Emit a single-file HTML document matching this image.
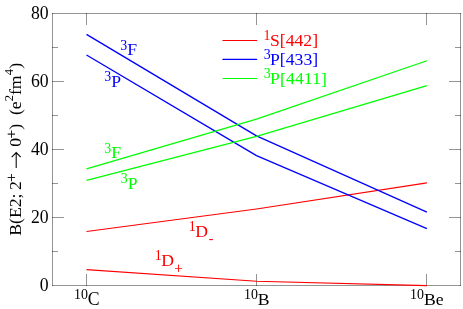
<!DOCTYPE html>
<html><head><meta charset="utf-8"><title>B(E2)</title>
<style>
html,body{margin:0;padding:0;background:#fff;overflow:hidden}
svg{display:block;will-change:transform}
text{font-family:"Liberation Serif",serif;white-space:pre}
</style></head><body>
<svg width="463" height="309" viewBox="0 0 463 309">
<rect width="463" height="309" fill="#fff"/>
<g stroke="#000" stroke-opacity="0.42" stroke-width="1" fill="none">
<path d="M52.0 13.5H461.0"/><path d="M52.0 285.5H461.0"/><path d="M52.5 13.0V286.0"/><path d="M460.5 13.0V286.0"/>
<path d="M52.0 251.50h6M461.0 251.50h-6"/>
<path d="M52.0 217.50h12M461.0 217.50h-12"/>
<path d="M52.0 183.50h6M461.0 183.50h-6"/>
<path d="M52.0 149.50h12M461.0 149.50h-12"/>
<path d="M52.0 115.50h6M461.0 115.50h-6"/>
<path d="M52.0 81.50h12M461.0 81.50h-12"/>
<path d="M52.0 47.50h6M461.0 47.50h-6"/>
<path d="M86.5 13.0v12M86.5 286.0v-12"/>
<path d="M256.5 13.0v12M256.5 286.0v-12"/>
<path d="M426.5 13.0v12M426.5 286.0v-12"/>
</g>
<g stroke-width="1.2" fill="none" stroke-linejoin="round">
<polyline stroke="#ff0000" stroke-width="1.15" points="86.5,231.50 256.5,209.00 426.9,182.84"/>
<polyline stroke="#ff0000" stroke-width="1.15" points="86.5,269.60 256.5,281.20 426.9,285.61"/>
<polyline stroke="#0000ff" stroke-width="1.35" points="86.5,34.40 256.5,135.90 426.9,212.08"/>
<polyline stroke="#0000ff" stroke-width="1.35" points="86.5,55.00 256.5,155.70 426.9,228.67"/>
<polyline stroke="#00ff00" stroke-width="1.25" points="86.5,168.80 256.5,119.10 426.9,60.76"/>
<polyline stroke="#00ff00" stroke-width="1.25" points="86.5,180.30 256.5,136.40 426.9,85.68"/>
<path stroke="#ff0000" stroke-width="1.1" stroke-linecap="round" d="M222.9 40.5H256.7"/>
<path stroke="#0000ff" stroke-width="1.1" stroke-linecap="round" d="M222.9 59.4H256.7"/>
<path stroke="#00ff00" stroke-width="1.1" stroke-linecap="round" d="M222.9 78.55H256.7"/>
</g>
<g fill="#000" color="#000">
<text transform="translate(39.85 291.30) scale(1 1.08)" font-size="17.70">0</text>
<text transform="translate(31.00 223.20) scale(1 1.08)" font-size="17.70">20</text>
<text transform="translate(31.00 154.90) scale(1 1.08)" font-size="17.70">40</text>
<text transform="translate(31.00 86.90) scale(1 1.08)" font-size="17.70">60</text>
<text transform="translate(31.00 18.80) scale(1 1.08)" font-size="17.70">80</text>
<text transform="translate(73.95 299.20) scale(1 1.03)" font-size="13.90">10</text><text transform="translate(87.85 304.90) scale(1 1.04)" font-size="17.70">C</text>
<text transform="translate(243.95 299.20) scale(1 1.03)" font-size="13.90">10</text><text transform="translate(257.85 304.90)" font-size="17.70">B</text>
<text transform="translate(410.02 299.20) scale(1 1.03)" font-size="13.90">10</text><text transform="translate(423.92 304.90)" font-size="17.70">Be</text>
<g transform="translate(20.8 235.8) rotate(-90)"><text transform="translate(0.00 0.00)" font-size="17.70">B(E2;</text><text transform="translate(45.90 0.00)" font-size="17.70">2</text><text transform="translate(54.15 -4.90)" font-size="14.80" stroke="currentColor" stroke-width="0.25">+</text><text transform="translate(89.12 0.00)" font-size="17.70">0</text><text transform="translate(97.67 -4.90)" font-size="14.80" stroke="currentColor" stroke-width="0.25">+</text><text transform="translate(106.02 0.00)" font-size="17.70">)</text><text transform="translate(120.76 0.00)" font-size="17.70">(e</text><text transform="translate(134.51 -7.60)" font-size="12.51">2</text><text transform="translate(140.77 0.00)" font-size="17.70">fm</text><text transform="translate(160.43 -7.60)" font-size="12.51">4</text><text transform="translate(167.09 0.00)" font-size="17.70">)</text><path d="M67.85 -4.6H83.29M78.69 -9.1L83.29 -4.6L78.69 -0.09999999999999964" fill="none" stroke="#000" stroke-width="1.05" stroke-linejoin="miter"/></g>
</g>
<g fill="#ff0000" color="#ff0000"><text transform="translate(263.57 40.30) scale(1 1.03)" font-size="13.90">1</text><text transform="translate(269.92 45.70)" font-size="17.70">S</text><text transform="translate(279.76 46.20)" font-size="17.70">[</text><text transform="translate(285.66 45.70)" font-size="17.70">442</text><text transform="translate(312.21 46.20)" font-size="17.70">]</text></g>
<g fill="#0000ff" color="#0000ff"><text transform="translate(263.77 58.60) scale(1 1.03)" font-size="13.90">3</text><text transform="translate(270.02 64.70)" font-size="17.70">P</text><text transform="translate(279.86 65.20)" font-size="17.70">[</text><text transform="translate(285.76 64.70)" font-size="17.70">433</text><text transform="translate(312.31 65.20)" font-size="17.70">]</text></g>
<g fill="#00ff00" color="#00ff00"><text transform="translate(263.77 78.30) scale(1 1.03)" font-size="13.90">3</text><text transform="translate(270.02 84.00)" font-size="17.70" letter-spacing="0.1">P</text><text transform="translate(279.96 84.50)" font-size="17.70" letter-spacing="0.1">[</text><text transform="translate(285.96 84.00)" font-size="17.70" letter-spacing="0.1">4411</text><text transform="translate(321.10 84.50)" font-size="17.70" letter-spacing="0.1">]</text></g>
<g fill="#0000ff" color="#0000ff"><text transform="translate(120.27 49.70) scale(1 1.03)" font-size="13.90">3</text><text transform="translate(127.22 54.70)" font-size="17.70">F</text></g>
<g fill="#0000ff" color="#0000ff"><text transform="translate(104.27 80.90) scale(1 1.03)" font-size="13.90">3</text><text transform="translate(111.22 86.60)" font-size="17.70">P</text></g>
<g fill="#00ff00" color="#00ff00"><text transform="translate(104.27 152.60) scale(1 1.03)" font-size="13.90">3</text><text transform="translate(111.22 158.30)" font-size="17.70">F</text></g>
<g fill="#00ff00" color="#00ff00"><text transform="translate(120.77 183.10) scale(1 1.03)" font-size="13.90">3</text><text transform="translate(127.72 188.80)" font-size="17.70">P</text></g>
<g fill="#ff0000" color="#ff0000"><text transform="translate(188.77 231.00) scale(1 1.03)" font-size="13.90">1</text><text transform="translate(195.22 236.70)" font-size="17.70">D</text><text transform="translate(208.80 243.00) scale(1 1.03)" font-size="13.90">-</text></g>
<g fill="#ff0000" color="#ff0000"><text transform="translate(154.77 260.00) scale(1 1.03)" font-size="13.90">1</text><text transform="translate(161.22 265.70)" font-size="17.70">D</text><text transform="translate(174.40 273.25) scale(1 1.03)" font-size="14.40" stroke="currentColor" stroke-width="0.25">+</text></g>
</svg>
</body></html>
